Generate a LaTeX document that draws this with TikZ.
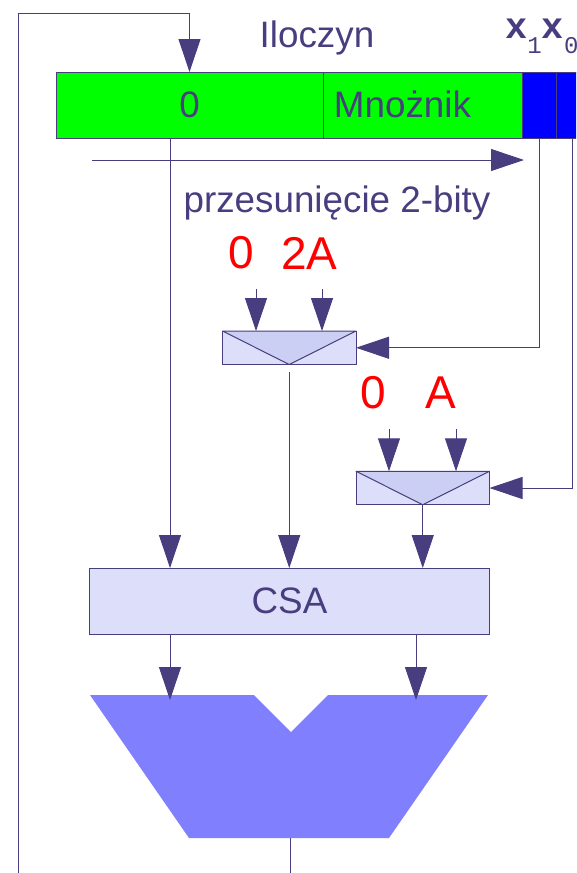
\documentclass[tikz,border=0pt]{standalone}
\usepackage{fontspec}
\setmainfont{Liberation Sans}
\newfontfamily\bitfont{Liberation Mono}
\usetikzlibrary{arrows.meta}

\definecolor{ink}{HTML}{483D7F}
\definecolor{lightbox}{HTML}{DDDFFA}
\definecolor{muxtop}{HTML}{CCCFF4}
\definecolor{alufill}{HTML}{8080FF}

\tikzset{
  labeltext/.style={text=ink, inner sep=0pt, font=\fontsize{36.8}{36.8}\selectfont},
  redtext/.style={text=red, inner sep=0pt, font=\fontsize{46}{46}\selectfont},
  regbox/.style={draw=ink, line width=1pt, fill=green, inner sep=0pt, outer sep=0pt, minimum height=66pt},
  bitbox/.style={regbox, fill=blue, minimum width=34pt},
  muxbox/.style={draw=ink, line width=1pt, fill=lightbox, inner sep=0pt, outer sep=0pt, minimum width=133.5pt, minimum height=33.5pt},
  muxtri/.style={draw=ink, line width=1pt, fill=muxtop, line join=round},
  flow/.style={draw=ink, line width=1pt, -{Triangle[length=33pt,width=22pt,fill=ink]}},
  wire/.style={draw=ink, line width=1pt}
}

\begin{document}
\begin{tikzpicture}[x=1pt,y=-1pt]
  \clip (0,0) rectangle (576,873);

  % register
  \node (zero) [regbox, minimum width=267pt] at (189.5,105) {};
  \node (mult) [regbox, minimum width=199pt] at (422.5,105) {};
  \node (bita) [bitbox] at (539,105) {};
  \node (bitb) [bitbox] at (573,105) {};
  \node (zerotext) [labeltext, anchor=base] at (189.5,117) {0};
  \node (multtext) [labeltext, anchor=base] at (402.5,117) {Mnożnik};

  % top labels
  \node (title) [labeltext, anchor=base] at (317,47) {Iloczyn};
  \node (bits) [text=ink, inner sep=0pt, anchor=base west] at (505,38) {\bitfont\fontsize{37}{37}\selectfont\bfseries x\raisebox{-15pt}{\fontsize{24}{24}\mdseries\selectfont 1}\bfseries x\raisebox{-15pt}{\fontsize{24}{24}\mdseries\selectfont 0}};
  \node (shifttext) [labeltext, anchor=base] at (337,212) {przesunięcie 2-bity};

  % muxes
  \node (muxa) [muxbox] at (289.25,347.75) {};
  \draw[muxtri] (muxa.north west) -- (muxa.north east) -- (muxa.south) -- cycle;
  \node (muxb) [muxbox] at (422.75,488) {};
  \draw[muxtri] (muxb.north west) -- (muxb.north east) -- (muxb.south) -- cycle;

  \node (zeroa) [redtext] at (241,253) {0};
  \node (twoa) [redtext] at (309.5,253) {2A};
  \node (zerob) [redtext] at (373.5,393) {0};
  \node (onea) [redtext] at (441,393) {A};

  % csa and adder
  \node (csa) [draw=ink, line width=1pt, fill=lightbox, inner sep=0pt, outer sep=0pt, minimum width=400pt, minimum height=66pt] at (289.5,601) {};
  \node (csatext) [labeltext, anchor=base] at (289.5,613) {CSA};
  \fill[alufill] (90,695) -- (254,695) -- (291,732) -- (328,695) -- (488,695) -- (389,838) -- (189,838) -- cycle;

  \coordinate (alubot) at (290,838);
  \coordinate (bota) at (290,873);
  \coordinate (botb) at (18,873);
  \coordinate (topb) at (18,13);
  \coordinate (topa) at (189.5,13);
  \coordinate (shifta) at (92,160);
  \coordinate (shiftb) at (524,160);
  \coordinate (ina) at (256,289);
  \coordinate (inb) at (322,289);
  \coordinate (inc) at (389,429);
  \coordinate (ind) at (456,429);
  \coordinate (muxout) at (289.25,372);
  \coordinate (alua) at (170,700);
  \coordinate (alub) at (416,700);

  % wires
  \draw[wire] (alubot) -- (bota);
  \draw[flow] (botb) -- (topb) -- (topa) -- (zero.north);
  \draw[flow] (shifta) -- (shiftb);
  \draw[flow] (bita.south) -- (bita.south |- muxa.east) -- (muxa.east);
  \draw[flow] (572.5,138) -- (572.5,488) -- (muxb.east);
  \draw[flow] (ina) -- (ina |- muxa.north);
  \draw[flow] (inb) -- (inb |- muxa.north);
  \draw[flow] (inc) -- (inc |- muxb.north);
  \draw[flow] (ind) -- (ind |- muxb.north);
  \draw[flow] (alua |- zero.south) -- (alua |- csa.north);
  \draw[flow] (muxout) -- (muxout |- csa.north);
  \draw[flow] (muxb.south) -- (muxb.south |- csa.north);
  \draw[flow] (alua |- csa.south) -- (alua);
  \draw[flow] (alub |- csa.south) -- (alub);
\end{tikzpicture}
\end{document}
